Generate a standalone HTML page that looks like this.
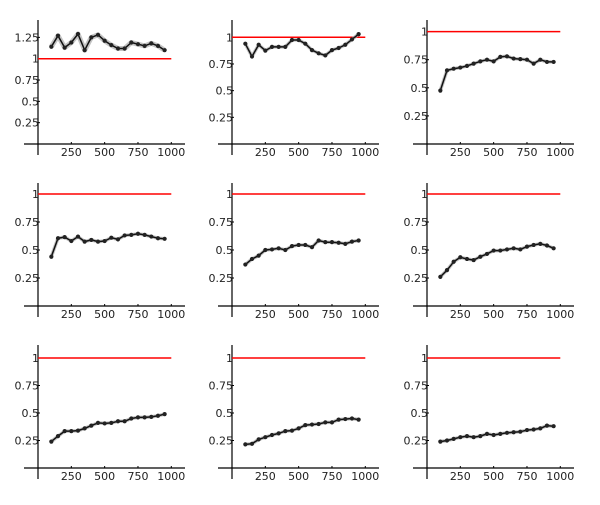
<!DOCTYPE html>
<html><head><meta charset="utf-8"><style>
body{margin:0;background:#fff;width:600px;height:500px;overflow:hidden}
svg text{font-family:"DejaVu Sans","Liberation Sans",sans-serif;font-size:11px;fill:#222}
</style></head><body>
<svg id="chart" width="600" height="500"></svg>
<script>
const xValues=[100,150,200,250,300,350,400,450,500,550,600,650,700,750,800,850,900,950];
const xTicks=[250,500,750,1000];
const yTickLabels=["0.25","0.5","0.75","1","1.25"];
const yTickValues=[0.25,0.5,0.75,1,1.25];
const refValue=1;
const s1=[1.14,1.27,1.13,1.19,1.29,1.10,1.25,1.28,1.21,1.16,1.12,1.12,1.19,1.17,1.15,1.18,1.15,1.10];
const s2=[0.94,0.82,0.93,0.875,0.91,0.91,0.91,0.975,0.975,0.94,0.88,0.85,0.83,0.88,0.90,0.93,0.98,1.03];
const s3=[0.475,0.655,0.67,0.68,0.695,0.715,0.735,0.75,0.735,0.775,0.78,0.76,0.755,0.75,0.715,0.75,0.73,0.73];
const s4=[0.44,0.605,0.615,0.58,0.62,0.575,0.59,0.575,0.58,0.61,0.595,0.63,0.635,0.645,0.635,0.62,0.605,0.6];
const s5=[0.37,0.42,0.45,0.5,0.505,0.515,0.5,0.535,0.545,0.545,0.525,0.585,0.57,0.57,0.565,0.555,0.575,0.585];
const s6=[0.26,0.32,0.395,0.435,0.42,0.41,0.44,0.465,0.495,0.495,0.505,0.515,0.505,0.53,0.545,0.555,0.54,0.515];
const s7=[0.24,0.29,0.335,0.335,0.34,0.36,0.385,0.41,0.405,0.41,0.425,0.425,0.45,0.46,0.46,0.465,0.475,0.49];
const s8=[0.215,0.22,0.26,0.28,0.30,0.315,0.335,0.34,0.36,0.39,0.395,0.40,0.415,0.415,0.44,0.445,0.45,0.44];
const s9=[0.24,0.25,0.265,0.28,0.29,0.28,0.29,0.31,0.30,0.31,0.32,0.325,0.33,0.345,0.35,0.36,0.385,0.38];
const series=[s1,s2,s3,s4,s5,s6,s7,s8,s9];

const NS="http://www.w3.org/2000/svg";
const svg=document.getElementById('chart');
const colX=[38,232,427];
const rowBase=[144,306,468];
const rowTop=[20,183,345];
const yScales=[85.3,106.7,112.4,112,112,112,110,110,110];
function mk(tag,attrs,parent){const e=document.createElementNS(NS,tag);for(const k in attrs)e.setAttribute(k,attrs[k]);(parent||svg).appendChild(e);return e;}

series.forEach((data,i)=>{
  const ax=colX[i%3], base=rowBase[Math.floor(i/3)], top=rowTop[Math.floor(i/3)], k=yScales[i];
  const xs=v=>ax+v*0.1333, ys=v=>base-v*k;
  const g=mk('g',{});
  
  
  const xa=mk('line',{x1:ax-14,x2:ax+147,y1:base,y2:base,stroke:'#000','stroke-width':1.2},g);
  
  
  const ya=mk('line',{x1:ax,x2:ax,y1:top,y2:base+11,stroke:'#000','stroke-width':1.2},g);
  
  
  xTicks.forEach(t=>{
    mk('line',{x1:xs(t),x2:xs(t),y1:base,y2:base-2,stroke:'#000'},g);
    const tx=mk('text',{x:xs(t),y:base+12,'text-anchor':'middle'},g);
    tx.textContent=t;
    
    
  });
  yTickValues.forEach((v,j)=>{
    const y=ys(v); if(y<top+2) return;
    mk('line',{x1:ax,x2:ax+2,y1:y,y2:y,stroke:'#000'},g);
    const tx=mk('text',{x:ax+1,y:y+4,'text-anchor':'end'},g);
    tx.textContent=yTickLabels[j];
    
    
  });
  const rl=mk('line',{x1:ax,x2:xs(1000),y1:ys(refValue),y2:ys(refValue),stroke:'#f00','stroke-width':1.5},g);
  
  
  const pts=data.map((v,j)=>xs(xValues[j]).toFixed(1)+','+ys(v).toFixed(1)).join(' ');
  mk('polyline',{points:pts,fill:'none',stroke:'#aaa','stroke-width':i==0?5:3.5,'stroke-opacity':0.7,'stroke-linejoin':'round'},g);
  const pl=mk('polyline',{points:pts,fill:'none',stroke:'#111','stroke-width':1.5,'stroke-linejoin':'round'},g);
  
  
  data.forEach((v,j)=>{
    const c=mk('circle',{cx:xs(xValues[j]),cy:ys(v),r:2.1,fill:'#222'},g);
    
    
  });
});
</script>
</body></html>
